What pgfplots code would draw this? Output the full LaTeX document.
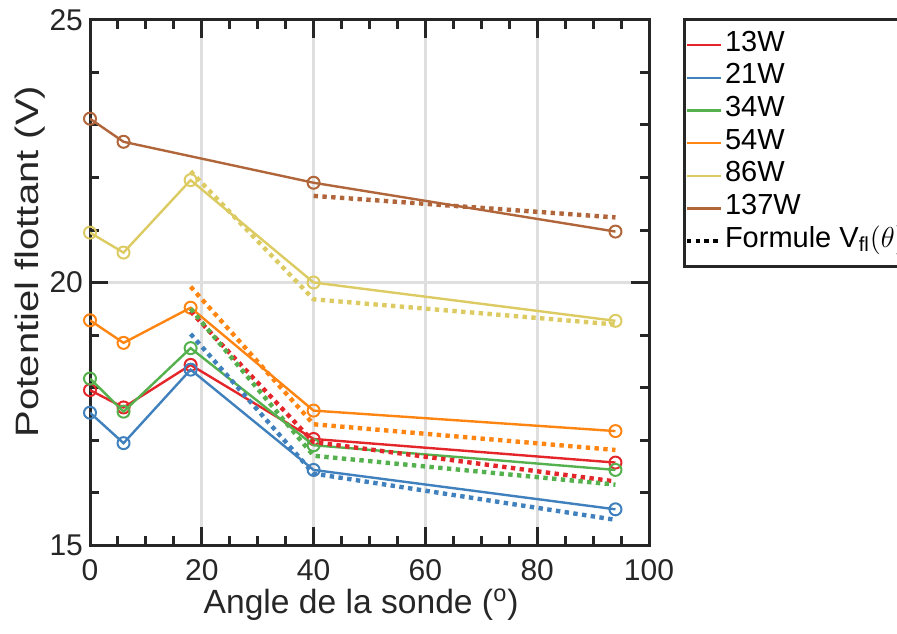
\documentclass[border=0pt]{standalone}
\usepackage{fontspec}
\setmainfont{Liberation Sans}
\usepackage{graphicx}
\usepackage{pgfplots}
\pgfplotsset{compat=1.18}
\definecolor{cR}{HTML}{E4262B}
\definecolor{cB}{HTML}{3F80BD}
\definecolor{cG}{HTML}{55B04E}
\definecolor{cO}{HTML}{FF8512}
\definecolor{cY}{HTML}{DCCB62}
\definecolor{cN}{HTML}{B0663A}
\definecolor{axgray}{HTML}{262626}
\definecolor{grgray}{HTML}{DFDFDF}
\begin{document}
\begin{tikzpicture}
\begin{axis}[
  scale only axis, width=279.5pt, height=262.5pt,
  xmin=0, xmax=100, ymin=15, ymax=25,
  xtick={0,20,40,60,80,100}, ytick={15,20,25},
  minor x tick num=3, minor y tick num=4,
  tick align=inside, tick pos=both,
  major tick length=9pt, minor tick length=4.5pt,
  tick style={line width=1.5pt, color=axgray},
  axis line style={line width=1.5pt, color=axgray},
  xmajorgrids, ymajorgrids,
  major grid style={line width=1.5pt, color=grgray},
  /pgf/number format/assume math mode=true,
  ticklabel style={font=\fontsize{15}{18}\selectfont, text=axgray},
  xticklabel style={yshift=-3.5pt},
  xlabel={Angle de la sonde (\textsuperscript{o})},
  ylabel={\scalebox{1}[0.81]{Potentiel flottant (V)}},
  xlabel style={font=\fontsize{16.8}{20}\selectfont, text=axgray, at={(axis description cs:0.485,-0.114)}, anchor=center},
  ylabel style={font=\fontsize{20}{24}\selectfont, text=axgray, at={(axis description cs:-0.107,0.54)}, anchor=center},
  clip mode=individual,
  legend image code/.code={\draw[#1,mark=none] (0pt,0pt) -- (17pt,0pt);},
  legend style={at={(axis description cs:1.061,1.004)}, anchor=north west,
    draw=axgray, line width=1.5pt, font=\fontsize{14.5}{17}\selectfont,
    inner xsep=0pt, inner ysep=4.8pt, row sep=0.35pt,
    nodes={inner xsep=1pt, inner ysep=0pt, text height=11pt, text depth=5pt}},
  legend cell align=left,
  solid/.style={line width=1.2pt, mark=o, mark size=3pt, mark options={line width=1pt}},
  dots/.style={line width=2.2pt, dash pattern=on 2.2pt off 2.2pt, forget plot},
]
\addplot[cR, solid] coordinates {(0,17.95) (6,17.62) (18,18.43) (40,17.02) (94,16.57)};
\addlegendentry{13W}
\addplot[cB, solid] coordinates {(0,17.52) (6,16.94) (18,18.34) (40,16.43) (94,15.68)};
\addlegendentry{21W}
\addplot[cG, solid] coordinates {(0,18.17) (6,17.54) (18,18.75) (40,16.90) (94,16.43)};
\addlegendentry{34W}
\addplot[cO, solid] coordinates {(0,19.28) (6,18.85) (18,19.52) (40,17.56) (94,17.17)};
\addlegendentry{54W}
\addplot[cY, solid] coordinates {(0,20.95) (6,20.57) (18,21.95) (40,20.00) (94,19.27)};
\addlegendentry{86W}
\addplot[cN, solid] coordinates {(0,23.12) (6,22.68) (40,21.90) (94,20.97)};
\addlegendentry{137W}
\addplot[cR, dots] coordinates {(18,19.45) (40,16.96) (94,16.21)};
\addplot[cB, dots] coordinates {(18,19.02) (40,16.36) (94,15.48)};
\addplot[cG, dots] coordinates {(18,19.50) (40,16.70) (94,16.15)};
\addplot[cO, dots] coordinates {(18,19.92) (40,17.30) (94,16.81)};
\addplot[cY, dots] coordinates {(18,22.12) (40,19.68) (94,19.20)};
\addplot[cN, dots] coordinates {(40,21.65) (94,21.24)};
\addlegendimage{black, line width=2.2pt, dash pattern=on 2.2pt off 2.2pt}
\addlegendentry{Formule V\textsubscript{fl}$(\theta)$}
\end{axis}
\pgfresetboundingbox
\path[use as bounding box] (-45pt,-44pt) rectangle (403.5pt,272.5pt);
\end{tikzpicture}
\end{document}
